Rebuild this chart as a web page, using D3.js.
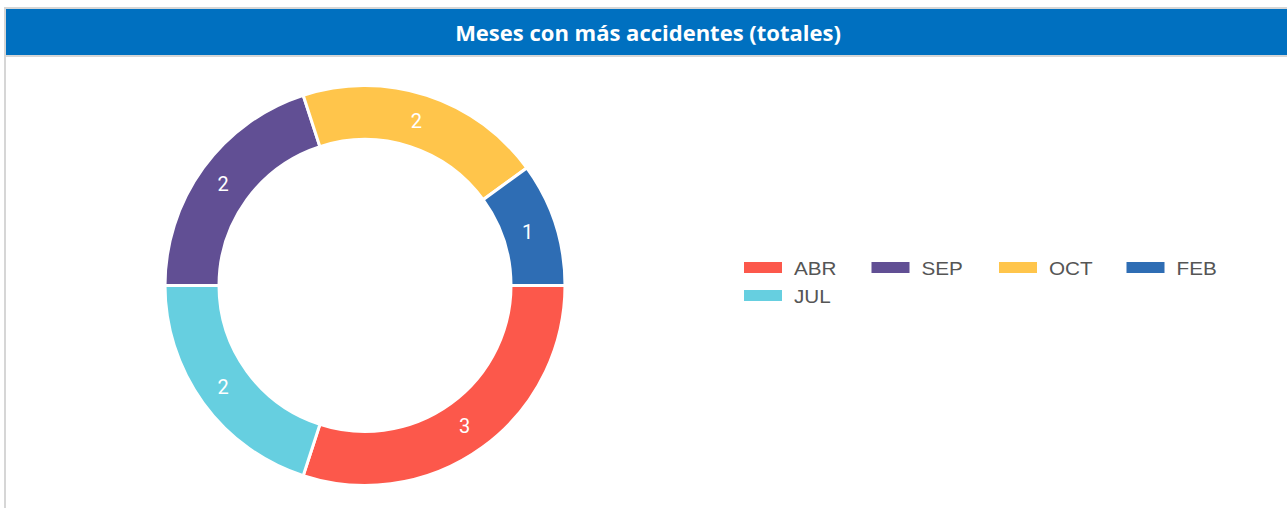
<!DOCTYPE html>
<html>
<head>
<meta charset="utf-8">
<script src="https://cdn.jsdelivr.net/npm/d3@7"></script>
<style>
  body { margin: 0; background: #fff; }
  svg { display: block; }
</style>
</head>
<body>
<svg></svg>
<script>
const width = 1287;
const height = 508;

// data, in legend order
const months = ['ABR', 'SEP', 'OCT', 'FEB', 'JUL'];
const counts = [3, 2, 2, 1, 2];
const colors = ['#fc584b', '#614f94', '#ffc54b', '#2e6db4', '#66cfe0'];
// order the slices go round, clockwise from 3 o'clock
const drawOrder = ['ABR', 'JUL', 'SEP', 'OCT', 'FEB'];
const title = 'Meses con más accidentes (totales)';

const svg = d3.select('svg')
    .attr('width', width).attr('height', height);

// frame + title bar
svg.append('rect')
    .attr('x', 4).attr('y', 7).attr('width', width - 4).attr('height', 50)
    .attr('fill', '#d6d6d6');
svg.append('rect')
    .attr('x', 4).attr('y', 7).attr('width', 2).attr('height', height - 7)
    .attr('fill', '#d6d6d6');
svg.append('rect')
    .attr('x', 6).attr('y', 9).attr('width', width - 6).attr('height', 46)
    .attr('fill', '#0070c0');
svg.append('text')
    .attr('x', 648).attr('y', 41)
    .attr('text-anchor', 'middle')
    .style('font-family', '"Open Sans", sans-serif')
    .style('font-weight', 'bold')
    .style('font-size', '22px')
    .style('fill', '#fff')
    .text(title);

const data = months.map((m, i) => ({ month: m, value: counts[i], color: colors[i] }));

const center = [365, 285.5];
const outerR = 200;
const innerR = 146;

const pie = d3.pie()
    .value(d => d.value)
    .sort((a, b) => drawOrder.indexOf(a.month) - drawOrder.indexOf(b.month))
    .startAngle(Math.PI / 2)
    .endAngle(Math.PI / 2 + 2 * Math.PI);

const arc = d3.arc().innerRadius(innerR).outerRadius(outerR);

const donut = svg.append('g')
    .attr('transform', `translate(${center[0]},${center[1]})`);

donut.selectAll('.slice')
    .data(pie(data))
    .enter().append('path')
    .attr('class', 'slice')
    .attr('d', arc)
    .style('fill', d => d.data.color)
    .style('stroke', '#fff')
    .style('stroke-width', '3px');

donut.selectAll('.lbl')
    .data(pie(data))
    .enter().append('text')
    .attr('class', 'lbl')
    .attr('x', d => arc.centroid(d)[0] - 2)
    .attr('y', d => arc.centroid(d)[1])
    .attr('dy', '0.36em')
    .attr('text-anchor', 'middle')
    .style('font-family', 'Roboto, sans-serif')
    .style('font-size', '20px')
    .style('fill', '#fff')
    .text(d => d.value);

// legend, 4 per row
const legend = svg.append('g').attr('transform', 'translate(744,262)');
const item = legend.selectAll('.item')
    .data(data)
    .enter().append('g')
    .attr('class', 'item')
    .attr('transform', (d, i) => `translate(${(i % 4) * 127.5},${Math.floor(i / 4) * 28})`);
item.append('rect')
    .attr('width', 38).attr('height', 11)
    .attr('fill', d => d.color);
item.append('text')
    .attr('transform', 'translate(50,12.5) scale(1.15,1)')
    .style('font-family', '"Liberation Sans", Arial, sans-serif')
    .style('font-size', '18px')
    .style('fill', '#555')
    .text(d => d.month);
</script>
</body>
</html>
